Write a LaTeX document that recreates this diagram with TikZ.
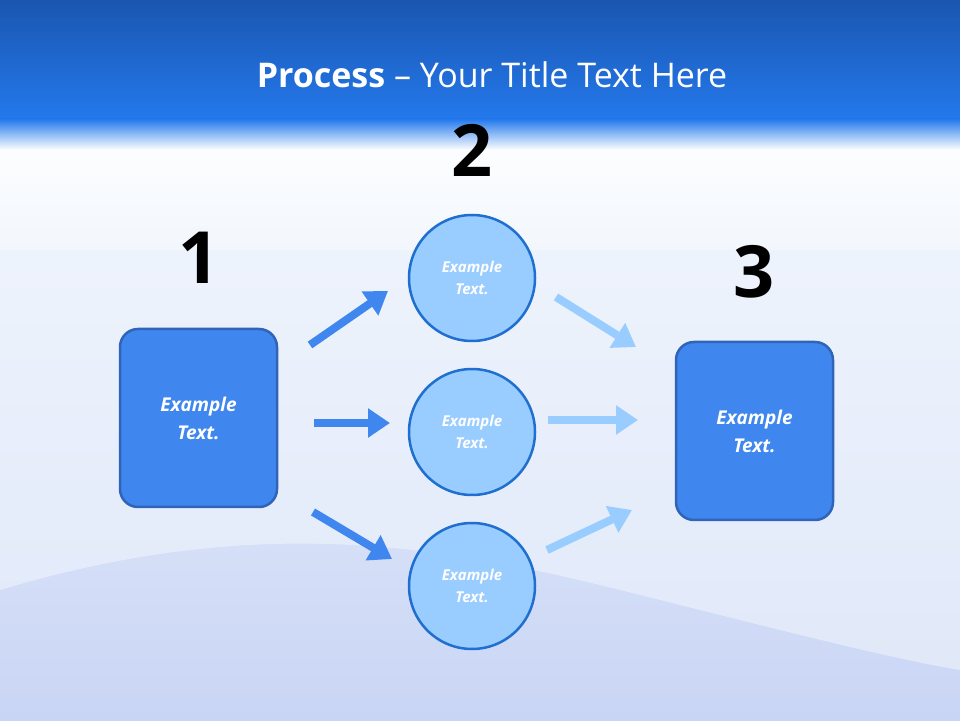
\documentclass[tikz,border=0pt]{standalone}
\usepackage{fontspec}
\setmainfont{Open Sans}
\usetikzlibrary{arrows.meta}
\definecolor{boxblue}{HTML}{3F87EE}
\definecolor{boxedge}{HTML}{2F64B8}
\definecolor{circfill}{HTML}{99CCFF}
\definecolor{circedge}{HTML}{1F6FD0}
\definecolor{topdark}{HTML}{1A56B0}
\definecolor{toplight}{HTML}{2479EC}
\definecolor{bglight}{HTML}{F2F7FD}
\definecolor{bgwave}{HTML}{C9D5F5}
\tikzset{
  sq/.style={draw=boxedge,line width=2.5pt,fill=boxblue,rounded corners=18pt,minimum width=157pt,minimum height=178pt,text=white,align=center,font=\fontsize{19}{28}\selectfont\bfseries\itshape},
  circ/.style={circle,draw=circedge,line width=2.5pt,fill=circfill,minimum size=126pt,text=white,align=center,font=\fontsize{15}{22}\selectfont\bfseries\itshape},
  num/.style={font=\fontsize{72}{72}\selectfont\bfseries,text=black},
  darrow/.style={draw=boxblue,line width=8pt,-{Triangle[length=22pt,width=28pt]}},
  larrow/.style={draw=circfill,line width=8pt,-{Triangle[length=22pt,width=28pt]}}
}
\begin{document}
\begin{tikzpicture}[x=1pt,y=1pt]
\useasboundingbox (0,0) rectangle (960,720);
\shade[bottom color=bgwave,top color=bglight] (0,0) rectangle (960,600);
\fill[bglight,opacity=0.55] (0,600) -- (0,130) .. controls (300,220) and (500,160) .. (700,110) .. controls (820,80) and (900,60) .. (960,50) -- (960,600) -- cycle;
\shade[top color=white,bottom color=bglight] (0,600) rectangle (960,470);
\shade[top color=topdark,bottom color=toplight] (0,720) rectangle (960,600);
\shade[top color=toplight,bottom color=white] (0,601) rectangle (960,570);
\node[text=white,font=\fontsize{34}{40}\selectfont] (title) at (492,645) {\textbf{Process} – Your Title Text Here};
\node[sq] (b1) at (198.5,302) {Example\\Text.};
\node[sq] (b3) at (754.5,289) {Example\\Text.};
\node[circ] (c1) at (472,442) {Example\\Text.};
\node[circ] (c2) at (472,288) {Example\\Text.};
\node[circ] (c3) at (472,134) {Example\\Text.};
\node[num] (n1) at (199,462) {1};
\node[num] (n2) at (472,570) {2};
\node[num] (n3) at (754,448) {3};
\coordinate (a1s) at (310,375); \coordinate (a1e) at (388,429);
\coordinate (a2s) at (314,297); \coordinate (a2e) at (390,297);
\coordinate (a3s) at (313,208); \coordinate (a3e) at (392,161);
\coordinate (a4s) at (556,423); \coordinate (a4e) at (636,373);
\coordinate (a5s) at (548,300); \coordinate (a5e) at (638,300);
\coordinate (a6s) at (547,170); \coordinate (a6e) at (632,210);
\draw[darrow] (a1s) -- (a1e);
\draw[darrow] (a2s) -- (a2e);
\draw[darrow] (a3s) -- (a3e);
\draw[larrow] (a4s) -- (a4e);
\draw[larrow] (a5s) -- (a5e);
\draw[larrow] (a6s) -- (a6e);
\end{tikzpicture}
\end{document}
